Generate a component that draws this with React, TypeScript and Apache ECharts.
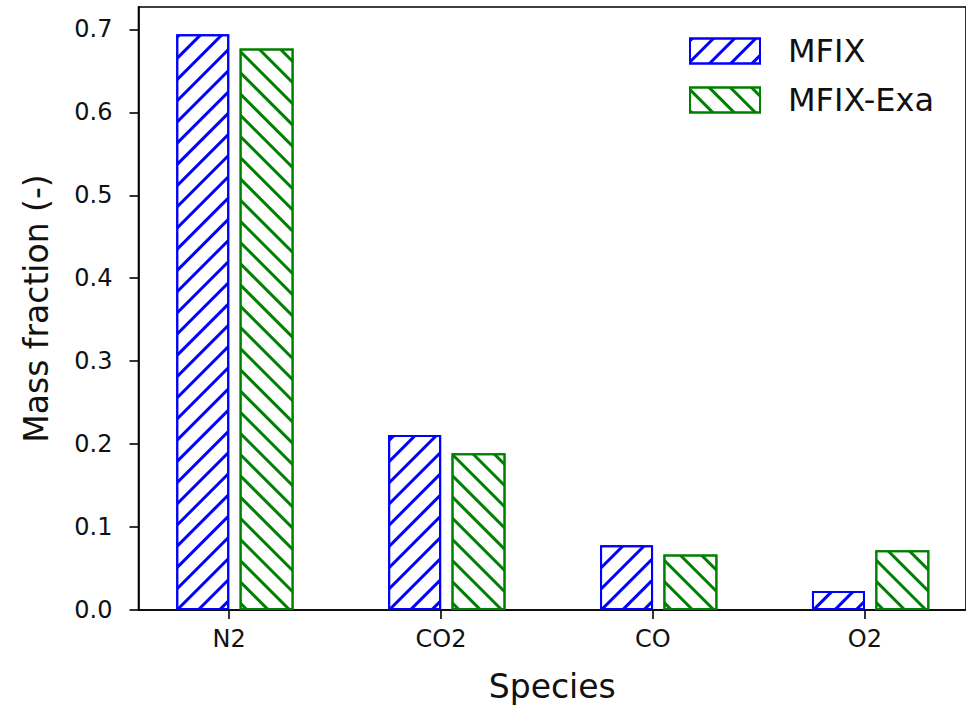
import React, { useEffect, useRef } from "react";
import * as echarts from "echarts";

const categories = ["N2", "CO2", "CO", "O2"];
const mfixValues = [0.694, 0.211, 0.078, 0.023];
const mfixExaValues = [0.677, 0.189, 0.067, 0.072];
const yTickValues = [0, 0.1, 0.2, 0.3, 0.4, 0.5, 0.6, 0.7];

const FONT = "DejaVu Sans";
const BLUE = "#0000ff";
const GREEN = "#008000";
const MFIX_OFFSET = -0.122;
const EXA_OFFSET = 0.177;

const hatch = (color: string, rot: number) => ({
  symbol: "rect",
  symbolSize: 1,
  color,
  backgroundColor: "#ffffff",
  dashArrayX: [1, 0],
  dashArrayY: [2.5, 11.5],
  rotation: rot,
});

export default function App() {
  const ref = useRef<HTMLDivElement>(null);
  useEffect(() => {
    if (!ref.current) return;
    const chart = echarts.init(ref.current, null, { renderer: "svg" });
    const catIdx = categories.map((_, i) => i);
    chart.setOption({
      animation: false,
      backgroundColor: "#ffffff",
      textStyle: { fontFamily: FONT },
      grid: {
        left: 138.5,
        top: 7,
        width: 831.5,
        height: 604,
        show: true,
        borderColor: "#000",
        borderWidth: 1.6,
        backgroundColor: "transparent",
      },
      legend: {
        orient: "vertical",
        left: 684,
        top: 30,
        itemWidth: 70,
        itemHeight: 25,
        itemGap: 17,
        icon: "rect",
        selectedMode: false,
        textStyle: {
          fontFamily: FONT,
          fontSize: 32,
          color: "#111",
          padding: [0, 0, 0, 23],
        },
        data: ["MFIX", "MFIX-Exa"],
      },
      xAxis: {
        type: "value",
        min: -0.4275,
        max: 3.4775,
        splitLine: { show: false },
        axisLine: { show: true, onZero: false, lineStyle: { color: "#000", width: 1.6 } },
        axisTick: {
          show: true,
          length: 9,
          lineStyle: { color: "#000", width: 1.6 },
          customValues: catIdx,
        },
        axisLabel: {
          customValues: catIdx,
          formatter: (v: number) => categories[Math.round(v)] ?? "",
          fontFamily: FONT,
          fontSize: 24,
          color: "#111",
          margin: 17,
        },
        name: "Species",
        nameLocation: "middle",
        nameGap: 60,
        nameTextStyle: { fontFamily: FONT, fontSize: 33, color: "#111" },
      },
      yAxis: {
        type: "value",
        min: 0,
        max: 0.727,
        interval: 0.1,
        splitLine: { show: false },
        axisLine: { show: true, onZero: false, lineStyle: { color: "#000", width: 1.6 } },
        axisTick: {
          show: true,
          length: 9,
          lineStyle: { color: "#000", width: 1.6 },
          customValues: yTickValues,
        },
        axisLabel: {
          customValues: yTickValues,
          formatter: (v: number) => v.toFixed(1),
          fontFamily: FONT,
          fontSize: 24,
          color: "#111",
          margin: 26,
        },
        name: "Mass fraction (-)",
        nameLocation: "middle",
        nameGap: 86,
        nameTextStyle: { fontFamily: FONT, fontSize: 33, color: "#111" },
      },
      series: [
        {
          name: "MFIX",
          type: "bar",
          barWidth: 53,
          barGap: "-100%",
          data: mfixValues.map((v, i) => [i + MFIX_OFFSET, v]),
          itemStyle: {
            color: "#ffffff",
            borderColor: BLUE,
            borderWidth: 2,
            decal: hatch(BLUE, -Math.PI / 4),
          },
        },
        {
          name: "MFIX-Exa",
          type: "bar",
          barWidth: 54,
          barGap: "-100%",
          data: mfixExaValues.map((v, i) => [i + EXA_OFFSET, v]),
          itemStyle: {
            color: "#ffffff",
            borderColor: GREEN,
            borderWidth: 2,
            decal: hatch(GREEN, Math.PI / 4),
          },
        },
      ],
    });
    return () => chart.dispose();
  }, []);
  return (
    <div
      ref={ref}
      style={{ position: "fixed", left: 0, top: 0, width: 966, height: 708 }}
    />
  );
}
